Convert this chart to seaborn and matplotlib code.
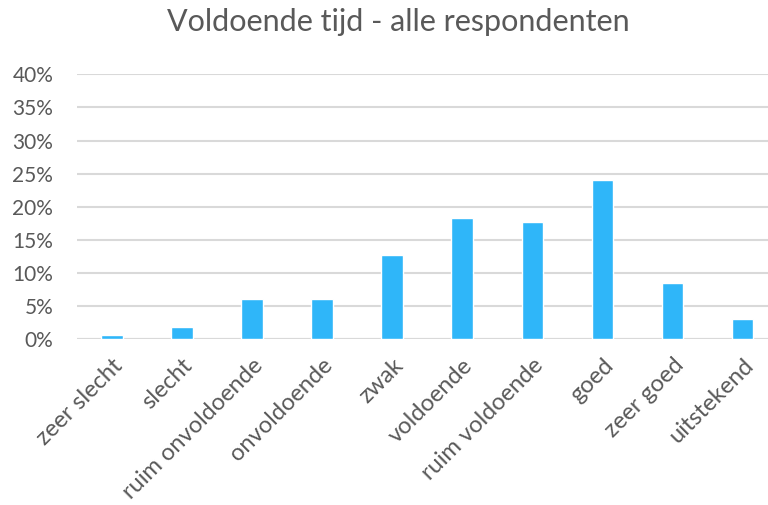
import matplotlib
matplotlib.use('Agg')
import matplotlib.pyplot as plt
import seaborn as sns
import pandas as pd
from matplotlib.ticker import PercentFormatter

# === DATA ===
categories = ['zeer slecht', 'slecht', 'ruim onvoldoende', 'onvoldoende', 'zwak',
              'voldoende', 'ruim voldoende', 'goed', 'zeer goed', 'uitstekend']
shares = [0.006, 0.018, 0.061, 0.061, 0.128, 0.183, 0.177, 0.241, 0.085, 0.030]
y_ticks = [0, 0.05, 0.10, 0.15, 0.20, 0.25, 0.30, 0.35, 0.40]

df = pd.DataFrame({'score': categories, 'aandeel': shares})

sns.set_theme(style='white')
plt.rcParams['font.family'] = ['Lato', 'DejaVu Sans']

grey = '#595959'
fig = plt.figure(figsize=(7.68, 5.05), dpi=100)
ax = fig.add_axes([0.100, 0.328, 0.9126, 0.5248])

sns.barplot(data=df, x='score', y='aandeel', color='#2FB6F9', saturation=1,
            width=0.31, ax=ax, zorder=3)

ax.set_xlim(-0.5, 9.5)
ax.set_ylim(0, 0.40)
ax.set_yticks(y_ticks)
ax.yaxis.set_major_formatter(PercentFormatter(1.0, decimals=0))
ax.grid(axis='y', color='#D9D9D9', linewidth=1.5, zorder=0)
for s in ax.spines.values():
    s.set_visible(False)
ax.axhline(0, color='#D9D9D9', linewidth=1.5, zorder=2)

ax.set_xlabel('')
ax.set_ylabel('')
ax.tick_params(axis='y', colors=grey, labelsize=15, length=0, pad=17)
ax.tick_params(axis='x', colors=grey, labelsize=17, length=0, pad=11)
plt.setp(ax.get_xticklabels(), rotation=45, ha='right', rotation_mode='anchor')

fig.text(0.518, 0.957, 'Voldoende tijd - alle respondenten', ha='center', va='center',
         fontsize=22, color=grey)

plt.savefig('out.png', dpi=100)
